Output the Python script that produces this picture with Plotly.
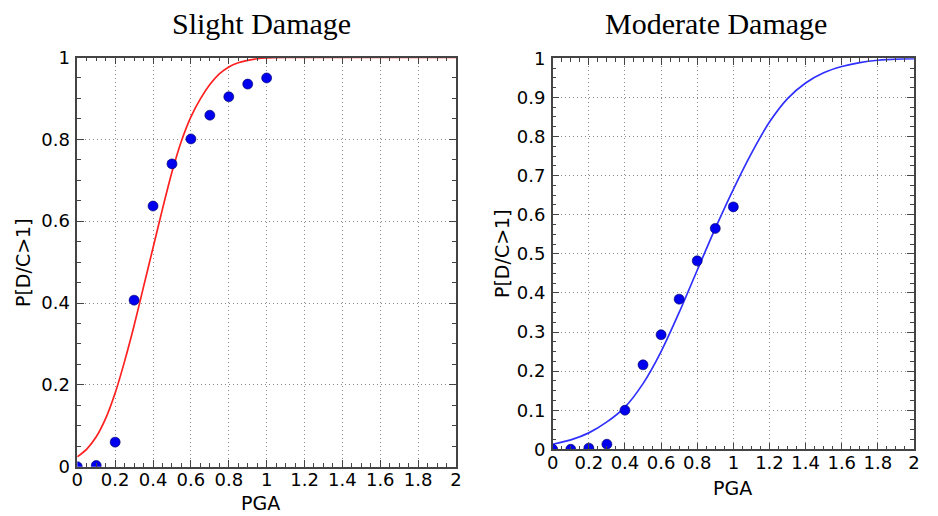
import plotly.graph_objects as go

W, H = 938, 516

# Observed data points (PGA, probability)
pga_obs = [0.0, 0.1, 0.2, 0.3, 0.4, 0.5, 0.6, 0.7, 0.8, 0.9, 1.0]
slight_obs = [0.0, 0.003, 0.06, 0.407, 0.637, 0.740, 0.801, 0.859, 0.904, 0.935, 0.950]
moderate_obs = [0.0, 0.0, 0.003, 0.013, 0.100, 0.216, 0.293, 0.384, 0.482, 0.565, 0.620]

# Fitted curves, values
slight_curve_x = [0.0, 0.05, 0.1, 0.15, 0.2, 0.25, 0.3, 0.35, 0.4, 0.45, 0.5, 0.55,
                  0.6, 0.65, 0.7, 0.75, 0.8, 0.85, 0.9, 0.95, 1.0, 1.1, 1.2, 1.4, 1.6, 1.8, 2.0]
slight_curve_y = [0.024, 0.043, 0.073, 0.118, 0.18, 0.258, 0.345, 0.44, 0.535, 0.63, 0.72, 0.796,
                  0.855, 0.899, 0.934, 0.96, 0.977, 0.987, 0.993, 0.997, 0.999, 1.0, 1.0, 1.0, 1.0, 1.0, 1.0]

moderate_curve_x = [0.0, 0.1, 0.2, 0.3, 0.4, 0.5, 0.6, 0.7, 0.8, 0.9, 1.0,
                    1.1, 1.2, 1.3, 1.4, 1.5, 1.6, 1.7, 1.8, 1.9, 2.0]
moderate_curve_y = [0.013, 0.024, 0.042, 0.07, 0.108, 0.168, 0.25, 0.35, 0.458, 0.565, 0.665,
                    0.757, 0.837, 0.897, 0.937, 0.963, 0.979, 0.989, 0.995, 0.998, 0.999]

x_ticks = [0, 0.2, 0.4, 0.6, 0.8, 1, 1.2, 1.4, 1.6, 1.8, 2]

titles = ["Slight Damage", "Moderate Damage"]
x_title = "PGA"
y_title = "P[D/C>1]"

# Plot areas in pixels (left, right, top, bottom)
L1 = (77.3, 456.0, 57.5, 466.7)
L2 = (552.7, 914.0, 58.3, 449.3)

def xd(a):
    return [a[0] / W, a[1] / W]

def yd(a):
    return [1 - a[3] / H, 1 - a[2] / H]

fig = go.Figure()

fig.add_trace(go.Scatter(x=slight_curve_x, y=slight_curve_y, mode="lines",
                         line=dict(color="#ff2020", width=1.7, shape="spline", smoothing=0.8),
                         xaxis="x", yaxis="y", showlegend=False))
fig.add_trace(go.Scatter(x=pga_obs, y=slight_obs, mode="markers",
                         marker=dict(color="#0000ee", size=10, line=dict(color="#000060", width=0.6)),
                         xaxis="x", yaxis="y", showlegend=False))
fig.add_trace(go.Scatter(x=moderate_curve_x, y=moderate_curve_y, mode="lines",
                         line=dict(color="#3030ff", width=1.7, shape="spline", smoothing=0.8),
                         xaxis="x2", yaxis="y2", showlegend=False))
fig.add_trace(go.Scatter(x=pga_obs, y=moderate_obs, mode="markers",
                         marker=dict(color="#0000ee", size=10, line=dict(color="#000060", width=0.6)),
                         xaxis="x2", yaxis="y2", showlegend=False))

tickfont = dict(family="DejaVu Sans", size=18, color="black")
common = dict(showline=True, linecolor="#444", linewidth=1.5, mirror="ticks",
              ticks="inside", ticklen=7, tickcolor="#444", tickwidth=1,
              showgrid=True, gridcolor="#8a8a8a", griddash="1px,3px", gridwidth=1,
              zeroline=False, tickfont=tickfont, fixedrange=True, automargin=False)

fig.update_layout(
    width=W, height=H,
    margin=dict(l=0, r=0, t=0, b=0, autoexpand=False),
    paper_bgcolor="white", plot_bgcolor="white",
    xaxis=dict(domain=xd(L1), range=[0, 2], tickvals=x_ticks, anchor="y", ticklabelstandoff=-4,
               minor=dict(ticks="inside", dtick=0.05, ticklen=4, tickcolor="#444", showgrid=False),
               **common),
    yaxis=dict(domain=yd(L1), range=[0, 1], dtick=0.2, anchor="x", ticklabelstandoff=2,
               minor=dict(ticks="inside", dtick=0.05, ticklen=4, tickcolor="#444", showgrid=False),
               **common),
    xaxis2=dict(domain=xd(L2), range=[0, 2], tickvals=x_ticks, anchor="y2", ticklabelstandoff=-4,
                minor=dict(ticks="inside", dtick=0.05, ticklen=4, tickcolor="#444", showgrid=False),
                **common),
    yaxis2=dict(domain=yd(L2), range=[0, 1], dtick=0.1, anchor="x2", ticklabelstandoff=2,
                minor=dict(ticks="inside", dtick=0.025, ticklen=4, tickcolor="#444", showgrid=False),
                **common),
)

ann = []
ann.append(dict(text=titles[0], x=261.7 / W, y=1 - 24 / H, xref="paper", yref="paper",
                xanchor="center", yanchor="middle", showarrow=False,
                font=dict(family="Liberation Serif", size=30, color="black")))
ann.append(dict(text=titles[1], x=716 / W, y=1 - 24 / H, xref="paper", yref="paper",
                xanchor="center", yanchor="middle", showarrow=False,
                font=dict(family="Liberation Serif", size=30, color="black")))
ann.append(dict(text=x_title, x=260 / W, y=1 - 503 / H, xref="paper", yref="paper",
                xanchor="center", yanchor="middle", showarrow=False,
                font=dict(family="DejaVu Sans", size=19, color="black")))
ann.append(dict(text=x_title, x=732 / W, y=1 - 488 / H, xref="paper", yref="paper",
                xanchor="center", yanchor="middle", showarrow=False,
                font=dict(family="DejaVu Sans", size=19, color="black")))
ann.append(dict(text=y_title, x=22.5 / W, y=1 - 262.5 / H, xref="paper", yref="paper",
                xanchor="center", yanchor="middle", showarrow=False, textangle=-90,
                font=dict(family="DejaVu Sans", size=19, color="black")))
ann.append(dict(text=y_title, x=502 / W, y=1 - 254 / H, xref="paper", yref="paper",
                xanchor="center", yanchor="middle", showarrow=False, textangle=-90,
                font=dict(family="DejaVu Sans", size=19, color="black")))
fig.update_layout(annotations=ann)

fig.write_html("out.html")
